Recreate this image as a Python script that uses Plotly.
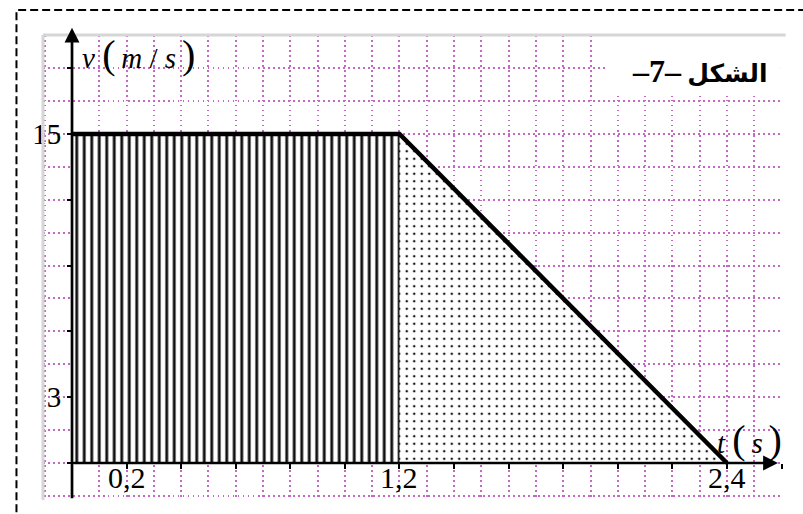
import plotly.graph_objects as go

# Velocity–time graph: constant speed, then uniform deceleration to rest
t_const = [0, 1.2]      # s
v_const = [15, 15]      # m/s
t_decel = [1.2, 2.4]    # s
v_decel = [15, 0]       # m/s

# Axis extents (s, m/s)
t_range = [-0.1063, 2.6017]
v_range = [-1.687, 19.51]

# Ticks and labels
x_tick_vals = [0.2, 0.4, 0.6, 0.8, 1.0, 1.2, 1.4, 1.6, 1.8, 2.0, 2.2, 2.4, 2.6]
x_tick_text = ["0,2", "", "", "", "", "1,2", "", "", "", "", "", "2,4", ""]
y_tick_vals = [0, 3, 6, 9, 12, 15, 18]
y_tick_text = ["", "3", "", "", "", "15", ""]

SERIF = "Liberation Serif, Times New Roman, DejaVu Serif, serif"
ARABIC = "Liberation Serif, DejaVu Sans, serif"
GRID = "#c468c4"
DOT = "1.5px,3.5px"

fig = go.Figure()

# Hatched rectangle: distance covered at constant speed
fig.add_trace(go.Scatter(
    x=[t_const[0], t_const[1], t_const[1], t_const[0], t_const[0]],
    y=[0, 0, v_const[1], v_const[0], 0],
    mode="lines", fill="toself",
    line=dict(color="#111111", width=1.8),
    fillpattern=dict(shape="|", size=7.5, solidity=0.38,
                     fgcolor="#111111", bgcolor="white", fillmode="replace"),
    hoverinfo="skip", showlegend=False,
))

# Dotted triangle: distance covered while decelerating
fig.add_trace(go.Scatter(
    x=[t_decel[0], t_decel[1], t_decel[0], t_decel[0]],
    y=[v_decel[0], v_decel[1], 0, v_decel[0]],
    mode="lines", fill="toself",
    line=dict(width=0),
    fillpattern=dict(shape=".", size=7.5, solidity=0.09,
                     fgcolor="#111111", bgcolor="white", fillmode="replace"),
    hoverinfo="skip", showlegend=False,
))

# v(t) curve
fig.add_trace(go.Scatter(
    x=t_const + t_decel[1:],
    y=v_const + v_decel[1:],
    mode="lines", line=dict(color="black", width=4.5),
    hoverinfo="skip", showlegend=False,
))

x_axis_pos = (0 - v_range[0]) / (v_range[1] - v_range[0])
y_axis_pos = (0 - t_range[0]) / (t_range[1] - t_range[0])

common_grid = dict(showgrid=True, gridcolor=GRID, griddash=DOT, gridwidth=1.5)

fig.update_layout(
    width=803, height=514,
    margin=dict(l=43, r=21, t=35, b=14),
    paper_bgcolor="white", plot_bgcolor="white",
    xaxis=dict(
        range=t_range, anchor="free", position=x_axis_pos,
        tickmode="array", tickvals=x_tick_vals, ticktext=x_tick_text,
        ticks="outside", ticklen=5, tickwidth=1.5, tickcolor="black",
        showline=False, zeroline=False, showticklabels=False,
        minor=dict(dtick=0.1, tick0=0, ticks="", **common_grid),
        **common_grid,
    ),
    yaxis=dict(
        range=v_range, anchor="free", position=y_axis_pos,
        tickmode="array", tickvals=y_tick_vals, ticktext=y_tick_text,
        ticks="outside", ticklen=5, tickwidth=1.5, tickcolor="black",
        showline=False, zeroline=False,
        tickfont=dict(family=SERIF, size=29, color="black"),
        minor=dict(dtick=1.5, tick0=0, ticks="", **common_grid),
        **common_grid,
    ),
)

# Time tick labels, set just under the time axis
for val, txt in zip(x_tick_vals, x_tick_text):
    if txt:
        fig.add_annotation(x=val, y=-0.68, xref="x", yref="y",
                           xanchor="center", yanchor="middle", text=txt,
                           showarrow=False,
                           font=dict(family=SERIF, size=30, color="black"))

# Axis lines with arrowheads
fig.add_annotation(x=0, y=19.84, ax=0, ay=v_range[0] + 0.01,
                   xref="x", yref="y", axref="x", ayref="y", text="",
                   showarrow=True, arrowhead=2, arrowsize=1.1, arrowwidth=2.7,
                   arrowcolor="black", standoff=0)
fig.add_annotation(x=2.587, y=0, ax=0, ay=0,
                   xref="x", yref="y", axref="x", ayref="y", text="",
                   showarrow=True, arrowhead=2, arrowsize=1.1, arrowwidth=2.7,
                   arrowcolor="black", standoff=0)

# Axis titles
BIG = "<span style='font-size:40px'>{}</span>"
fig.add_annotation(x=0.03, y=18.6, xref="x", yref="y", xanchor="left", yanchor="middle",
                   text="<i>v</i> " + BIG.format("(") + "\u2009<i>m</i> / <i>s</i>\u2009" + BIG.format(")"),
                   showarrow=False, font=dict(family=SERIF, size=29, color="black"))
fig.add_annotation(x=2.355, y=1.05, xref="x", yref="y", xanchor="left", yanchor="middle",
                   text="<i>t</i> " + BIG.format("(") + "\u2009<i>s</i>\u2009" + BIG.format(")"),
                   showarrow=False, font=dict(family=SERIF, size=29, color="black"))

# Figure caption on a white panel
fig.add_shape(type="rect", xref="x", yref="y", x0=1.953, x1=2.594, y0=16.73, y1=20,
              fillcolor="white", line=dict(width=0), layer="above")
fig.add_annotation(x=2.30, y=17.87, xref="x", yref="y", xanchor="center", yanchor="middle",
                   text="<b><span style='font-size:32px'>–7–</span> الشكل</b>",
                   showarrow=False,
                   font=dict(family=ARABIC, size=25, color="black"))

# Light frame on the top and left edges of the plot area
fig.add_shape(type="line", xref="paper", yref="paper", x0=0, x1=1.005, y0=1, y1=1,
              line=dict(color="#d6d6d6", width=3), layer="above")
fig.add_shape(type="line", xref="paper", yref="paper", x0=0, x1=0, y0=0, y1=1,
              line=dict(color="#d6d6d6", width=3), layer="above")

# Dashed outer border
fig.add_shape(type="rect", xref="paper", yref="paper",
              x0=-0.0359, x1=1.2, y0=-0.2, y1=1.0538,
              line=dict(color="black", width=2, dash="8px,4px"),
              fillcolor="rgba(0,0,0,0)", layer="above")

fig.write_html("out.html")
